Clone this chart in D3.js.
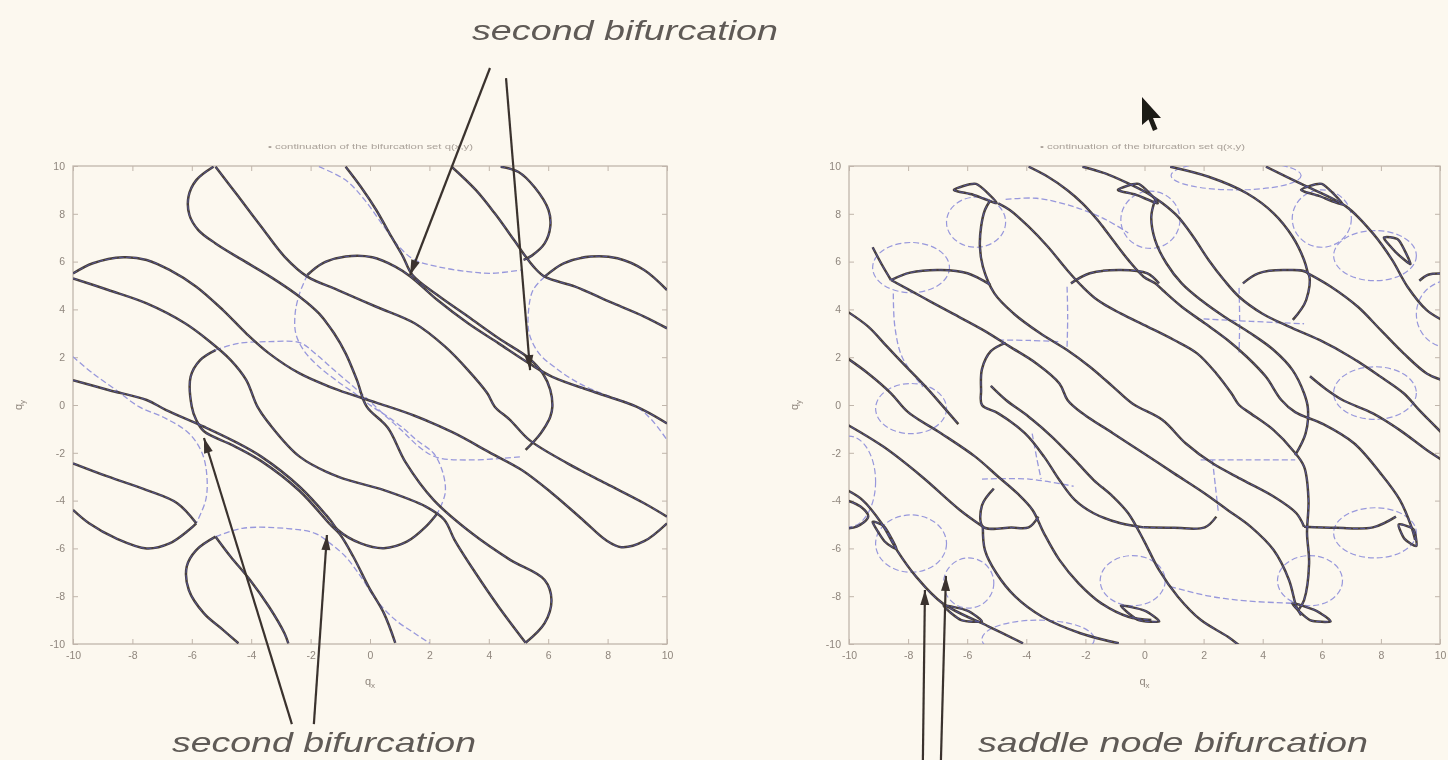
<!DOCTYPE html>
<html><head><meta charset="utf-8">
<script src="https://cdn.jsdelivr.net/npm/d3@7"></script>
<style>body{margin:0;background:#fcf8ef;}svg{display:block}</style>
</head><body>
<svg id="c" width="1448" height="760"></svg>
<script>
const tickValues = [-10,-8,-6,-4,-2,0,2,4,6,8,10];
const domainRange = [-10,10];

// ---------- left panel : solid curves ----------
const leftT1 = [[-5.27,9.97],[-5.85,9.41],[-6.11,8.72],[-6.08,7.95],[-5.78,7.32],[-5.2,6.76],[-4.3,6.07],[-3.27,5.3],[-2.37,4.53],[-1.72,3.83],[-1.21,3.0],[-0.82,2.16],[-0.44,1.04],[-0.11,-0.07],[0.6,-0.95],[1.2,-2.4],[2.14,-3.97],[3.43,-5.37],[4.72,-6.48],[5.88,-7.32],[6.11,-8.16],[5.88,-9.13],[5.24,-9.95]];
const leftT2 = [[-5.2,9.97],[-4.43,8.72],[-3.66,7.46],[-2.88,6.21],[-2.11,5.37],[-1.08,4.81],[0.21,4.11],[1.5,3.42],[2.53,2.44],[3.3,1.46],[3.95,0.49],[4.2,-0.07],[4.72,-0.63],[5.36,-1.46],[6.65,-2.44],[7.94,-3.28],[9.23,-4.11],[10,-4.67]];
const leftT3 = [[-10,5.3],[-8.81,4.81],[-7.52,4.25],[-6.23,3.42],[-5.46,2.72],[-4.69,1.88],[-4.17,1.05],[-3.79,-0.07],[-3.4,-0.77],[-2.37,-2.16],[-1.08,-3.0],[0.47,-3.56],[1.88,-4.25],[2.5,-4.8],[2.85,-5.65],[3.56,-7.04],[4.33,-8.44],[5.24,-9.95]];
const leftT4 = [[-10,5.5],[-9.33,5.93],[-8.3,6.18],[-7.52,6.07],[-6.75,5.65],[-5.85,4.95],[-4.95,3.97],[-4.17,3.0],[-3.4,2.16],[-2.37,1.32],[-1.08,0.63],[0.21,0.1],[1.5,-0.45],[2.79,-1.15],[4.08,-2.02],[5.11,-2.72],[6.14,-3.7],[7.17,-4.81],[7.94,-5.65],[8.46,-5.95],[9.23,-5.7],[10,-4.95]];
const leftX  = [[-2.11,5.44],[-1.6,5.93],[-0.82,6.21],[0.08,6.18],[0.85,5.79],[1.37,5.37],[2.27,4.39],[3.3,3.42],[4.33,2.58],[5.36,1.74],[6.14,1.18],[7.68,0.49],[8.97,-0.07],[10,-0.77]];
const leftY  = [[-0.82,9.97],[-0.31,9.13],[0.21,8.16],[0.72,7.04],[1.11,6.21],[1.43,5.44],[2.27,4.6],[3.3,3.7],[4.33,2.79],[5.36,1.95],[5.82,1.32],[6.07,0.63],[6.14,-0.07],[6.07,-0.49],[5.75,-1.18],[5.24,-1.88]];
const leftXb = [[-10,1.04],[-8.81,0.63],[-7.52,0.21],[-6.88,-0.2],[-5.59,-0.91],[-4.6,-1.5],[-3.66,-2.16],[-2.37,-3.42],[-1.34,-4.81],[-1.08,-5.23],[-0.31,-5.79],[0.47,-5.99],[1.24,-5.72],[1.88,-5.09],[2.27,-4.53]];
const leftYb = [[-5.2,2.3],[-5.72,1.88],[-6.04,1.18],[-6.0,-0.07],[-5.85,-0.63],[-5.59,-1.1],[-4.6,-1.7],[-3.66,-2.35],[-2.37,-3.6],[-1.34,-5.0],[-1.02,-5.4],[-0.56,-6.35],[-0.05,-7.6],[0.47,-8.72],[0.85,-9.95]];
const leftTR1 = [[2.75,9.97],[3.56,9.0],[4.2,8.02],[4.85,6.9],[5.24,6.21],[5.5,5.8],[5.88,5.37],[6.91,4.95],[8.2,4.25],[9.23,3.7],[10,3.21]];
const leftTR2 = [[4.4,9.97],[5.0,9.75],[5.55,9.1],[6.01,8.16],[6.07,7.46],[5.88,6.76],[5.45,6.25],[5.17,6.07]];
const leftTR3 = [[5.88,5.37],[6.52,5.93],[7.43,6.21],[8.33,6.14],[9.23,5.65],[10,4.81]];
const leftBL1 = [[-4.43,-9.97],[-4.95,-9.41],[-5.59,-8.72],[-6.1,-7.74],[-6.17,-6.76],[-5.85,-6.07],[-5.2,-5.51]];
const leftBL2 = [[-5.2,-5.51],[-4.69,-6.35],[-4.04,-7.32],[-3.4,-8.44],[-2.88,-9.55],[-2.75,-9.97]];
const leftBL3 = [[-10,-2.44],[-8.81,-3.0],[-7.52,-3.56],[-6.49,-4.11],[-5.85,-4.95]];
const leftBL4 = [[-10,-4.39],[-9.46,-4.95],[-8.55,-5.58],[-7.52,-6.0],[-6.75,-5.79],[-6.1,-5.23],[-5.85,-4.95]];

// ---------- left panel : dashed curves ----------
const leftD1  = [[-1.72,9.97],[-0.82,9.41],[-0.18,8.58],[0.47,7.46],[0.98,6.62],[1.5,6.07],[2.27,5.79],[3.3,5.58],[4.08,5.51],[5.11,5.65]];
const leftD1b = [[-5.2,-5.51],[-4.3,-5.16],[-2.88,-5.16],[-1.85,-5.37],[-1.34,-5.79],[-0.82,-6.35],[-0.31,-7.18],[0.21,-8.16],[0.85,-8.99],[1.5,-9.55],[2.01,-9.97]];
const leftD2  = [[-2.11,5.44],[-2.37,4.67],[-2.52,3.83],[-2.5,3.0],[-2.24,2.3],[-1.72,1.6],[-1.08,0.98],[-0.44,0.42],[0.08,-0.07],[0.55,-0.45],[1.1,-0.95],[1.6,-1.5],[2.14,-2.02],[2.46,-2.86],[2.53,-3.7],[2.27,-4.53]];
const leftD3  = [[-5.2,2.3],[-4.43,2.58],[-3.4,2.65],[-2.37,2.61],[-1.85,2.16],[-1.21,1.46],[-0.56,0.77],[-0.05,0.21],[0.47,-0.4],[1.1,-1.1],[1.7,-1.8],[2.27,-2.2],[3.43,-2.3],[5.11,-2.16]];
const leftD4  = [[5.88,5.37],[5.49,4.81],[5.34,3.97],[5.36,3.0],[5.69,2.16],[6.27,1.53],[7.04,0.91],[7.94,0.42],[8.97,-0.07],[9.49,-0.63],[10,-1.46]];
const leftD4b = [[-10,2.02],[-9.33,1.32],[-8.55,0.63],[-7.78,-0.07],[-6.88,-0.56],[-6.1,-1.18],[-5.65,-2.02],[-5.49,-3.0],[-5.53,-3.97],[-5.85,-4.95]];

// ---------- right panel : solid curves ----------
const rightA = [[-4.95,8.44],[-4.56,8.16],[-3.92,7.46],[-3.27,6.62],[-2.62,5.65],[-2.1,4.95],[-1.59,4.39],[-0.81,3.83],[0.1,3.28],[1.0,2.72],[1.78,2.16],[2.43,1.32],[2.94,0.49],[3.2,0.0],[3.59,-0.35],[4.37,-1.05],[5.01,-1.88],[5.4,-2.58],[5.55,-3.97],[5.5,-5.37],[5.57,-6.62],[5.4,-8.16],[5.21,-8.58]];
const rightB = [[-5.21,8.58],[-5.4,8.16],[-5.53,7.46],[-5.57,6.62],[-5.47,5.79],[-5.08,4.67],[-4.43,3.83],[-3.53,3.0],[-2.62,2.3],[-1.85,1.6],[-1.07,0.77],[-0.4,0.05],[0.61,-0.63],[1.39,-1.6],[2.3,-2.44],[3.33,-3.14],[4.37,-3.83],[5.14,-4.53],[5.4,-5.09]];
const rightC = [[-3.92,9.97],[-3.27,9.55],[-2.62,9.0],[-2.1,8.44],[-1.59,7.74],[-1.07,6.9],[-0.55,6.07],[-0.03,5.37],[0.36,5.09],[0.61,4.81],[1.26,4.11],[2.04,3.42],[2.81,2.72],[3.46,2.02],[4.11,1.18],[4.63,0.21],[5.1,-0.3],[6.05,-0.8],[7.09,-1.6],[7.99,-2.86],[8.64,-3.97],[9.03,-5.09],[9.16,-5.65]];
const rightD = [[-2.1,9.97],[-1.33,9.69],[-0.55,9.27],[0.1,8.86],[0.61,8.44],[1.13,7.88],[1.65,7.04],[2.17,6.07],[2.69,5.23],[3.2,4.53],[3.98,3.83],[4.89,3.28],[5.92,2.72],[6.96,2.02],[7.99,1.18],[8.77,0.49],[9.29,-0.2],[10.07,-1.18]];
const rightE = [[0.36,8.58],[0.23,7.88],[0.36,6.9],[0.74,5.93],[1.26,5.09],[1.91,4.39],[2.69,3.7],[3.59,3.0],[4.37,2.3],[5.01,1.46],[5.4,0.49],[5.53,-0.14],[5.45,-1.2],[5.1,-2.1]];
const rightF = [[-10.13,3.97],[-9.35,3.28],[-8.71,2.44],[-8.06,1.6],[-7.41,0.77],[-6.76,-0.14],[-6.3,-0.8]];
const rightG = [[-10.13,2.02],[-9.35,1.32],[-8.58,0.49],[-8.0,-0.3],[-6.89,-1.18],[-5.73,-2.16],[-4.95,-3.0],[-4.3,-3.7],[-3.79,-4.39],[-3.4,-5.37],[-2.88,-6.48],[-2.23,-7.46],[-1.46,-8.3],[-0.55,-8.86],[0.23,-9.0]];
const rightH = [[-8.58,5.23],[-7.54,4.53],[-6.5,3.83],[-5.47,3.14],[-4.56,2.44],[-3.66,1.74],[-2.88,0.9],[-2.6,0.2],[-2.1,-0.35],[-1.07,-1.18],[-0.03,-2.02],[1.0,-2.86],[2.04,-3.7],[2.81,-4.39],[3.59,-5.09],[4.37,-6.07],[4.89,-7.32],[5.14,-8.44],[5.3,-8.8]];
const rightLeftD = [[-4.7,2.6],[-5.2,2.25],[-5.5,1.5],[-5.53,0.6],[-5.5,0.0],[-4.95,-0.35],[-4.05,-1.18],[-3.4,-2.16],[-2.88,-3.14],[-2.36,-3.97],[-1.72,-4.53],[-0.81,-4.95],[-0.03,-5.12]];
const rightZ4 = [[-5.2,0.8],[-4.69,0.21],[-3.92,-0.49],[-3.14,-1.32],[-2.36,-2.3],[-1.72,-3.14],[-1.07,-3.83],[-0.55,-4.53],[-0.03,-5.65],[0.49,-6.9],[1.13,-8.02],[1.91,-9.0],[2.81,-9.69],[3.33,-10.18]];
const rightZ9 = [[5.6,1.2],[6.1,0.7],[6.7,0.21],[7.73,-0.35],[8.64,-1.05],[9.55,-1.88],[10.07,-2.3]];
const rightZ1 = [[-10.13,-0.77],[-8.84,-1.74],[-7.54,-2.99],[-6.25,-4.39],[-5.47,-5.09]];
const rightI = [[0.87,9.97],[2.17,9.55],[3.46,8.86],[4.37,8.02],[5.01,7.04],[5.4,6.07],[5.53,5.51]];
const rightJ = [[5.53,5.51],[6.31,4.95],[7.22,4.11],[7.99,3.14],[8.77,2.16],[9.55,1.32],[10.07,1.04]];
const rightK = [[4.11,9.97],[5.27,9.27],[6.83,8.3],[7.73,7.18],[8.38,6.07],[8.9,4.95],[9.55,3.97],[10.07,3.56]];
const rightKb = [[-4.11,-9.97],[-5.27,-9.27],[-6.83,-8.3],[-7.73,-7.18],[-8.38,-6.07],[-8.9,-4.95],[-9.55,-3.97],[-10.07,-3.56]];
const rightIb = [[-0.87,-9.97],[-2.17,-9.55],[-3.46,-8.86],[-4.37,-8.02],[-5.01,-7.04],[-5.4,-6.07],[-5.47,-5.09]];
const rightLL = [[-9.2,6.6],[-8.9,5.9],[-8.58,5.23]];
const rightCap1 = [[-8.58,5.23],[-7.93,5.54],[-6.89,5.65],[-5.99,5.51],[-5.21,5.02]];
const rightCap2 = [[-2.49,5.09],[-1.85,5.51],[-0.81,5.65],[0.1,5.51],[0.49,5.09]];
const rightCap3 = [[3.33,5.09],[3.85,5.51],[4.76,5.65],[5.53,5.51],[5.47,4.39],[5.02,3.56]];
const rightCap4 = [[10.07,5.5],[9.6,5.45],[9.3,5.2]];
const rightCup0 = [[-10.13,-3.97],[-9.61,-4.25],[-9.35,-4.67],[-9.74,-5.09],[-10.13,-5.16]];
const rightCup1 = [[-5.1,-3.5],[-5.5,-4.2],[-5.47,-5.09],[-4.5,-5.13],[-3.92,-5.12],[-3.59,-4.67]];
const rightCup2 = [[-0.03,-5.12],[1.0,-5.14],[2.04,-5.12],[2.43,-4.67]];
const rightCup3 = [[5.4,-5.09],[6.5,-5.14],[7.73,-5.12],[8.51,-4.67]];
// lens shapes: left tip, upper middle, right tip, lower middle
const rightLens1 = [[-6.45,9.0],[-5.7,9.25],[-5.0,8.45],[-5.8,8.8]];
const rightLens2 = [[-0.9,9.0],[-0.2,9.25],[0.45,8.45],[-0.3,8.8]];
const rightLens3 = [[5.3,9.0],[6.0,9.25],[6.7,8.4],[5.9,8.75]];
const rightLens4 = [[8.1,7.0],[8.6,6.9],[9.0,5.9],[8.5,6.4]];
const rightLens5 = [[-9.2,-4.9],[-8.8,-5.1],[-8.4,-6.0],[-8.8,-5.7]];
const rightLens6 = [[-6.8,-8.4],[-6.0,-8.6],[-5.5,-9.05],[-6.2,-9.0]];
const rightLens7 = [[-0.8,-8.4],[0.0,-8.6],[0.5,-9.05],[-0.2,-9.0]];
const rightLens8 = [[5.0,-8.3],[5.8,-8.6],[6.3,-9.05],[5.6,-9.0]];
const rightLens9 = [[8.6,-5.0],[9.1,-5.2],[9.2,-5.9],[8.8,-5.6]];

// ---------- right panel : dashed ellipses and dashed curves ----------
const rightEllipseCx = [-5.7, 0.2, 6.0, 7.8, -7.9, 3.1, 10.3, -7.9, 7.8, -10.0, -7.9, -5.95, -0.4, 5.6, 7.8, -3.6];
const rightEllipseCy = [7.65, 7.75, 7.8, 6.25, 5.75, 9.6, 3.8, -0.15, 0.5, -3.2, -5.8, -7.45, -7.35, -7.35, -5.35, -9.8];
const rightEllipseRx = [1.0, 1.0, 1.0, 1.4, 1.3, 2.2, 1.1, 1.2, 1.4, 0.9, 1.2, 0.85, 1.1, 1.1, 1.4, 1.9];
const rightEllipseRy = [1.05, 1.2, 1.2, 1.05, 1.05, 0.6, 1.4, 1.05, 1.1, 1.9, 1.2, 1.05, 1.05, 1.05, 1.05, 0.8];
const rightD1 = [[-8.5,4.67],[-8.45,3.3],[-8.2,2.0],[-7.5,0.76]];
const rightD2 = [[-4.95,2.72],[-3.9,2.7],[-2.88,2.65]];
const rightD3 = [[-2.62,4.95],[-2.6,3.7],[-2.62,2.44]];
const rightD4 = [[2.0,3.6],[3.6,3.5],[5.4,3.4]];
const rightD5 = [[3.2,4.9],[3.22,3.5],[3.2,2.2]];
const rightD6 = [[-3.8,-1.2],[-3.65,-2.2],[-3.5,-3.1]];
const rightD7 = [[-5.5,-3.1],[-3.9,-3.1],[-2.4,-3.4]];
const rightD8 = [[2.3,-2.3],[2.4,-3.4],[2.5,-4.5]];
const rightD9 = [[1.9,-2.3],[3.5,-2.3],[5.1,-2.3]];
const rightD10 = [[0.87,-7.6],[2.2,-8.0],[3.5,-8.2],[5.1,-8.3]];
const rightD11 = [[-4.7,8.6],[-3.66,8.65],[-2.4,8.3],[-1.3,7.75],[-0.55,7.2]];

const leftSolid = [leftT1,leftT2,leftT3,leftT4,leftX,leftY,leftXb,leftYb,leftTR1,leftTR2,leftTR3,leftBL1,leftBL2,leftBL3,leftBL4];
const leftDashed = [leftD1,leftD1b,leftD2,leftD3,leftD4,leftD4b];
const rightSolid = [rightA,rightB,rightC,rightD,rightE,rightF,rightG,rightH,rightLeftD,rightZ4,rightZ9,rightZ1,rightI,rightJ,rightK,rightKb,rightIb,rightLL,
  rightCap1,rightCap2,rightCap3,rightCap4,rightCup0,rightCup1,rightCup2,rightCup3];
const rightLenses = [rightLens1,rightLens2,rightLens3,rightLens4,rightLens5,rightLens6,rightLens7,rightLens8,rightLens9];
const rightDashed = [rightD1,rightD2,rightD3,rightD4,rightD5,rightD6,rightD7,rightD8,rightD9,rightD10,rightD11];

// annotation arrows in the data units of the panel they point into: [tailX, tailY, tipX, tipY]
const leftArrows = [[4.04,14.1,1.35,5.44],[4.58,13.68,5.39,1.46],[-2.63,-13.35,-5.59,-1.38],[-1.89,-13.35,-1.45,-5.44]];
const rightArrows = [[-7.5,-14.9,-7.43,-7.74],[-6.89,-14.9,-6.72,-7.15]];

// ---------- drawing ----------
const svg = d3.select('#c');
const C = {bg:'#fcf8ef', frame:'#c0b6ab', tick:'#8f867d', solid:'#48403a', blue:'#5a5bb4', dash:'#9898dc', text:'#5f5a56', arrow:'#3a332e'};
const defs = svg.append('defs');
const f = defs.append('filter').attr('id','soft').attr('x','-5%').attr('y','-5%').attr('width','110%').attr('height','110%');
f.append('feGaussianBlur').attr('stdDeviation',0.55);

svg.append('rect').attr('width',1448).attr('height',760).attr('fill',C.bg);
const root = svg.append('g').attr('filter','url(#soft)');

function drawPanel(id, box, solids, dashed, lenses, ellipses, arrows, title) {
  const x = d3.scaleLinear().domain(domainRange).range([box.x0, box.x1]);
  const y = d3.scaleLinear().domain(domainRange).range([box.y1, box.y0]);
  const g = root.append('g');
  defs.append('clipPath').attr('id','clip'+id).append('rect')
    .attr('x',box.x0).attr('y',box.y0).attr('width',box.x1-box.x0).attr('height',box.y1-box.y0);
  const ax = [
    [d3.axisBottom(x).tickValues(tickValues).tickSizeInner(-5).tickSizeOuter(0).tickPadding(8).tickFormat(d=>String(d)), `translate(0,${box.y1})`],
    [d3.axisLeft(y).tickValues(tickValues).tickSizeInner(-5).tickSizeOuter(0).tickPadding(8).tickFormat(d=>String(d)), `translate(${box.x0},0)`],
    [d3.axisTop(x).tickValues(tickValues).tickSizeInner(-5).tickSizeOuter(0).tickFormat(''), `translate(0,${box.y0})`],
    [d3.axisRight(y).tickValues(tickValues).tickSizeInner(-5).tickSizeOuter(0).tickFormat(''), `translate(${box.x1},0)`]
  ];
  ax.forEach(([a,t]) => {
    const ag = g.append('g').attr('transform',t).call(a);
    ag.select('.domain').remove();
    ag.selectAll('line').attr('stroke',C.frame).attr('stroke-width',1);
    ag.selectAll('text').attr('fill',C.tick).attr('font-size',10.5).attr('font-family','Liberation Sans, Arial, sans-serif');
  });
  g.append('rect').attr('x',box.x0).attr('y',box.y0).attr('width',box.x1-box.x0).attr('height',box.y1-box.y0)
    .attr('fill','none').attr('stroke',C.frame).attr('stroke-width',1.3);
  const xl = g.append('text').attr('x',(box.x0+box.x1)/2).attr('y',box.y1+41).attr('text-anchor','middle')
    .attr('fill',C.tick).attr('font-size',11).attr('font-family','Liberation Sans, Arial, sans-serif');
  xl.append('tspan').text('q'); xl.append('tspan').attr('font-size',8).attr('dy',3).text('x');
  const yl = g.append('text').attr('transform',`translate(${box.x0-51},${(box.y0+box.y1)/2}) rotate(-90)`).attr('text-anchor','middle')
    .attr('fill',C.tick).attr('font-size',11).attr('font-family','Liberation Sans, Arial, sans-serif');
  yl.append('tspan').text('q'); yl.append('tspan').attr('font-size',8).attr('dy',3).text('y');
  g.append('text').attr('x',box.tx).attr('y',box.y0-17).attr('fill','#aaa29a').attr('font-size',8)
    .attr('font-family','Liberation Sans, Arial, sans-serif').attr('textLength',205).attr('lengthAdjust','spacingAndGlyphs').text(title);

  const pg = g.append('g').attr('clip-path',`url(#clip${id})`);
  const line = d3.line().x(d=>x(d[0])).y(d=>y(d[1])).curve(d3.curveCatmullRom.alpha(0.5));
  const closed = d3.line().x(d=>x(d[0])).y(d=>y(d[1])).curve(d3.curveCardinalClosed.tension(0.35));
  pg.selectAll('ellipse.de').data(ellipses).join('ellipse').attr('class','de')
    .attr('cx',d=>x(d[0])).attr('cy',d=>y(d[1]))
    .attr('rx',d=>x(d[2])-x(0)).attr('ry',d=>y(0)-y(d[3]))
    .attr('fill','none').attr('stroke',C.dash).attr('stroke-width',1.2).attr('stroke-dasharray','6,3');
  pg.selectAll('path.dl').data(dashed).join('path').attr('class','dl').attr('d',line)
    .attr('fill','none').attr('stroke',C.dash).attr('stroke-width',1.3).attr('stroke-dasharray','6,3');
  pg.selectAll('path.sl').data(solids).join('path').attr('class','sl').attr('d',line)
    .attr('fill','none').attr('stroke',C.solid).attr('stroke-width',2.5).attr('stroke-linejoin','round');
  pg.selectAll('path.ln').data(lenses).join('path').attr('class','ln').attr('d',closed)
    .attr('fill','none').attr('stroke',C.solid).attr('stroke-width',2.5);
  pg.selectAll('path.bo').data(solids.concat(lenses)).join('path').attr('class','bo')
    .attr('d',(d,i)=> i<solids.length ? line(d) : closed(d))
    .attr('fill','none').attr('stroke',C.blue).attr('stroke-width',0.9).attr('stroke-dasharray','5,2').attr('opacity',0.85);
  // annotation arrows: shaft + filled head
  const ag = g.append('g');
  ag.selectAll('line.ar').data(arrows).join('line').attr('class','ar')
    .attr('x1',d=>x(d[0])).attr('y1',d=>y(d[1])).attr('x2',d=>x(d[2])).attr('y2',d=>y(d[3]))
    .attr('stroke',C.arrow).attr('stroke-width',2.2);
  ag.selectAll('path.ah').data(arrows).join('path').attr('class','ah')
    .attr('d', d => {
      const x1=x(d[0]), y1=y(d[1]), x2=x(d[2]), y2=y(d[3]);
      const L=Math.hypot(x2-x1,y2-y1), ux=(x2-x1)/L, uy=(y2-y1)/L;
      const bx=x2-15*ux, by=y2-15*uy, nx=-uy, ny=ux;
      return `M${x2},${y2}L${bx+4.5*nx},${by+4.5*ny}L${bx-4.5*nx},${by-4.5*ny}Z`;
    })
    .attr('fill',C.arrow);
}

const rightEll = rightEllipseCx.map((cx,i)=>[cx, rightEllipseCy[i], rightEllipseRx[i], rightEllipseRy[i]]);
drawPanel('L',{x0:73,x1:667,y0:166,y1:644,tx:268},leftSolid,leftDashed,[],[],leftArrows,'\u2022      continuation of the bifurcation set q(x,y)');
drawPanel('R',{x0:849,x1:1440,y0:166,y1:644,tx:1040},rightSolid,rightDashed,rightLenses,rightEll,rightArrows,'\u2022      continuation of the bifurcation set q(x,y)');

const ann = root.append('g').attr('font-family','Liberation Sans, Arial, sans-serif').attr('font-style','italic')
  .attr('fill',C.text).attr('font-size',28);
ann.append('text').attr('x',472).attr('y',40).attr('textLength',306).attr('lengthAdjust','spacingAndGlyphs').text('second bifurcation');
ann.append('text').attr('x',172).attr('y',752).attr('textLength',304).attr('lengthAdjust','spacingAndGlyphs').text('second bifurcation');
ann.append('text').attr('x',978).attr('y',752).attr('textLength',390).attr('lengthAdjust','spacingAndGlyphs').text('saddle node bifurcation');

root.append('path').attr('d','M1142,97 L1142,125 L1148.5,119.5 L1153,131 L1157.5,129 L1153,118 L1161,118 Z').attr('fill','#1e1a18');
</script>
</body></html>
